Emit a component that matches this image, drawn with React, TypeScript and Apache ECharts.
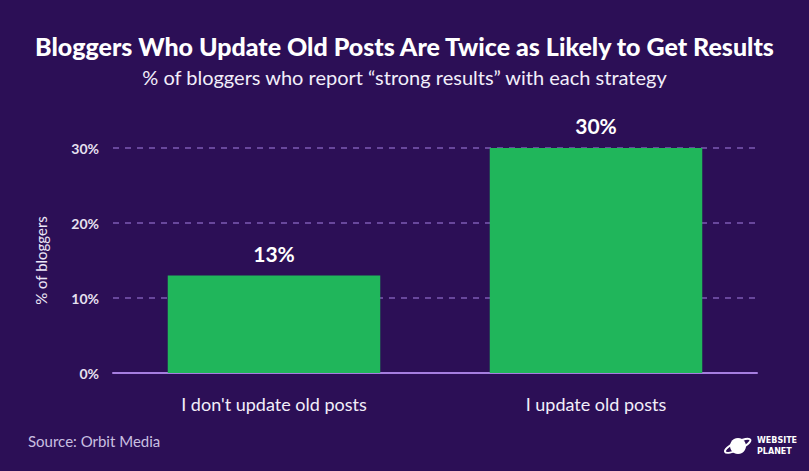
import React, { useEffect, useRef } from "react";
import * as echarts from "echarts";

const categories = ["I don't update old posts", "I update old posts"];
const values = [13, 30];
const yTicks = [0, 10, 20, 30];

const BG = "#2c0f56";
const GREEN = "#20b65b";

export default function App() {
  const ref = useRef<HTMLDivElement>(null);
  useEffect(() => {
    document.body.style.margin = "0";
    const chart = echarts.init(ref.current!, null, { renderer: "svg" });
    chart.setOption({
      animation: false,
      backgroundColor: BG,
      textStyle: { fontFamily: "Lato" },
      title: [
        {
          text: "Bloggers Who Update Old Posts Are Twice as Likely to Get Results",
          left: "center",
          top: 28,
          textStyle: { color: "#ffffff", fontSize: 25, fontWeight: 900, fontFamily: "Lato" },
        },
        {
          text: "% of bloggers who report \u201cstrong results\u201d with each strategy",
          left: "center",
          top: 62,
          textStyle: { color: "#f2eefa", fontSize: 20, fontWeight: "normal", fontFamily: "Lato" },
        },
      ],
      grid: { left: 113, right: 52, top: 148, bottom: 98, containLabel: false },
      xAxis: {
        type: "category",
        data: categories,
        axisLine: { lineStyle: { color: "#a67ee0", width: 2 } },
        axisTick: { show: false },
        axisLabel: { color: "#f2eefa", fontSize: 18, margin: 22, fontFamily: "Lato" },
      },
      yAxis: {
        type: "value",
        min: yTicks[0],
        max: yTicks[yTicks.length - 1],
        interval: 10,
        name: "% of bloggers",
        nameLocation: "middle",
        nameGap: 65,
        nameRotate: 90,
        nameTextStyle: { color: "#ece6f6", fontSize: 15, fontFamily: "Lato" },
        axisLine: { show: false },
        axisTick: { show: false },
        axisLabel: {
          color: "#e6e0f0",
          fontSize: 14,
          fontWeight: "bold",
          margin: 14,
          formatter: "{value}%",
          fontFamily: "Lato",
        },
        splitLine: { lineStyle: { color: "#7c5bb4", type: [6, 6], width: 1.5 } },
      },
      series: [
        {
          type: "bar",
          data: values,
          barWidth: "66%",
          itemStyle: { color: GREEN },
          label: {
            show: true,
            position: "top",
            distance: 12,
            formatter: "{c}%",
            color: "#ffffff",
            fontSize: 21,
            fontWeight: "bold",
            fontFamily: "Lato",
          },
        },
      ],
      graphic: [
        {
          type: "text",
          left: 28,
          top: 433,
          style: { text: "Source: Orbit Media", fill: "#c9bfe0", fontSize: 15, fontFamily: "Lato" },
        },
        {
          type: "circle",
          shape: { cx: 738, cy: 446, r: 8 },
          style: { fill: "#ffffff" },
        },
        {
          type: "ellipse",
          shape: { cx: 738, cy: 446, rx: 14, ry: 4 },
          rotation: 0.45,
          originX: 738,
          originY: 446,
          style: { fill: "none", stroke: "#ffffff", lineWidth: 2 },
        },
        {
          type: "text",
          left: 757,
          top: 436,
          style: { text: "WEBSITE", fill: "#ffffff", fontSize: 8, fontWeight: "bold", fontFamily: "DejaVu Sans" },
        },
        {
          type: "text",
          left: 757,
          top: 447,
          style: { text: "PLANET", fill: "#ffffff", fontSize: 8, fontWeight: "bold", fontFamily: "DejaVu Sans" },
        },
      ],
    });
    return () => chart.dispose();
  }, []);
  return <div ref={ref} style={{ width: 809, height: 471 }} />;
}
